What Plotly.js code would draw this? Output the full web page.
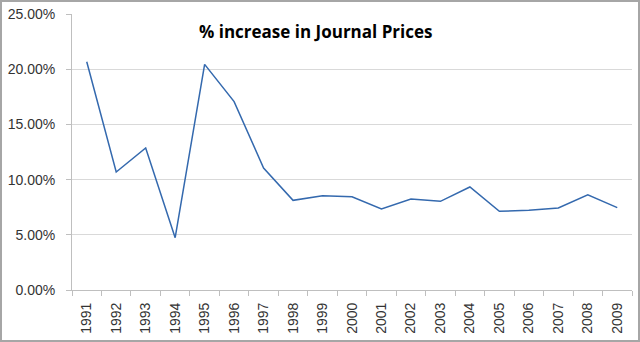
<!DOCTYPE html>
<html>
<head>
<meta charset="utf-8">
<script src="https://cdn.plot.ly/plotly-3.0.1.min.js"></script>
<style>
html,body{margin:0;padding:0;background:#fff;}
#wrap{position:relative;width:640px;height:342px;}
#chart{width:640px;height:342px;}
#frame{position:absolute;left:0;top:0;width:640px;height:342px;box-sizing:border-box;border:2px solid #a6a6a6;pointer-events:none;}
</style>
</head>
<body>
<div id="wrap"><div id="chart"></div><div id="frame"></div></div>
<script>
const years = ["1991","1992","1993","1994","1995","1996","1997","1998","1999","2000","2001","2002","2003","2004","2005","2006","2007","2008","2009"];
const increase = [0.2068,0.1069,0.1286,0.0474,0.2044,0.1706,0.1105,0.0812,0.0854,0.0845,0.0734,0.0824,0.0803,0.0933,0.0713,0.0722,0.0743,0.0863,0.0746];
const yTicks = [0,0.05,0.10,0.15,0.20,0.25];
const chartTitle = "% increase in Journal Prices";

const data = [{
  type: 'scatter', mode: 'lines', x: years, y: increase,
  line: {color: '#3469AE', width: 1.5}, hoverinfo: 'x+y'
}];
const layout = {
  width: 640, height: 342,
  margin: {l: 72, r: 8, t: 14, b: 52},
  paper_bgcolor: '#fff', plot_bgcolor: '#fff',
  showlegend: false,
  font: {family: 'Liberation Sans, Arial, sans-serif', color: '#333', size: 14},
  xaxis: {
    type: 'category', range: [-0.5, 18.5], tickangle: -90,
    showgrid: false, showline: true, linecolor: '#bfbfbf', linewidth: 1,
    ticks: 'outside', tickson: 'boundaries', ticklen: 5, tickcolor: '#bfbfbf',
    ticklabelstandoff: 6,
    tickfont: {size: 14, color: '#333'}, zeroline: false, fixedrange: true
  },
  yaxis: {
    range: [0, 0.25], tickvals: yTicks, tickformat: '.2%',
    showgrid: true, gridcolor: '#d9d9d9', gridwidth: 1,
    showline: true, linecolor: '#bfbfbf', linewidth: 1,
    ticks: 'outside', ticklen: 5, tickcolor: '#bfbfbf',
    ticklabelstandoff: 8,
    tickfont: {size: 14, color: '#333'}, zeroline: false, fixedrange: true
  },
  annotations: [{
    text: '<b>' + chartTitle + '</b>', xref: 'paper', yref: 'paper',
    x: 0.434, y: 0.935, xanchor: 'center', yanchor: 'middle', showarrow: false,
    font: {family: 'Open Sans, Liberation Sans, sans-serif', size: 17, color: '#000'}
  }]
};
Plotly.newPlot('chart', data, layout, {displayModeBar: false, staticPlot: true});
</script>
</body>
</html>
